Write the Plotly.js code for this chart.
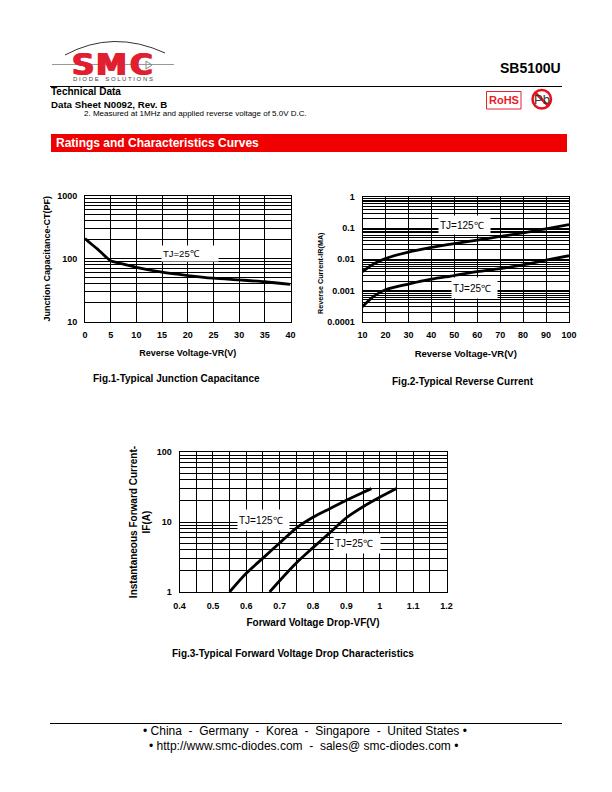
<!DOCTYPE html>
<html>
<head>
<meta charset="utf-8">
<script src="https://cdn.plot.ly/plotly-3.0.1.min.js"></script>
<style>html,body{margin:0;padding:0;background:#fff}</style>
</head>
<body>
<div id="chart" style="width:612px;height:792px"></div>
<script>
// Fig.1 junction capacitance
var capV = [0, 1, 2.5, 4, 5, 7, 10, 15, 20, 25, 30, 35, 40];
var capPF = [210, 178, 141, 108, 93, 84, 73, 61, 54, 49, 46, 43, 39];
var capXTicks = [0, 5, 10, 15, 20, 25, 30, 35, 40];
var capYGrid = [10,20,30,40,50,60,70,80,90,100,200,300,400,500,600,700,800,900,1000];
var capYLabels = {10: '10', 100: '100', 1000: '1000'};

// Fig.2 reverse current
var revV = [10, 15, 20, 30, 40, 50, 60, 70, 80, 90, 100];
var rev125 = [0.004, 0.0072, 0.0105, 0.017, 0.024, 0.032, 0.041, 0.054, 0.07, 0.095, 0.13];
var rev25 = [0.0003, 0.00065, 0.00105, 0.0016, 0.0023, 0.003, 0.004, 0.005, 0.0066, 0.0093, 0.013];
var revXTicks = [10, 20, 30, 40, 50, 60, 70, 80, 90, 100];
var revYGrid = [0.0001,0.0002,0.0003,0.0004,0.0005,0.0006,0.0007,0.0008,0.0009,
  0.001,0.002,0.003,0.004,0.005,0.006,0.007,0.008,0.009,
  0.01,0.02,0.03,0.04,0.05,0.06,0.07,0.08,0.09,
  0.1,0.2,0.3,0.4,0.5,0.6,0.7,0.8,0.9,1];
var revYLabels = {0.0001: '0.0001', 0.001: '0.001', 0.01: '0.01', 0.1: '0.1', 1: '1'};

// Fig.3 forward voltage drop
var fwdV125 = [0.55, 0.6, 0.65, 0.7, 0.75, 0.8, 0.85, 0.9, 0.95, 0.975];
var fwdI125 = [1, 1.85, 3.05, 5, 8.2, 11.7, 15.5, 20.5, 26.5, 30];
var fwdV25 = [0.67, 0.7, 0.75, 0.8, 0.85, 0.9, 0.95, 1, 1.05];
var fwdI25 = [1, 1.45, 2.6, 4.3, 7, 11.5, 16.5, 22.5, 30];
var fwdXGrid = [0.4,0.45,0.5,0.55,0.6,0.65,0.7,0.75,0.8,0.85,0.9,0.95,1,1.05,1.1,1.15,1.2];
var fwdXLabels = {0.4:'0.4',0.5:'0.5',0.6:'0.6',0.7:'0.7',0.8:'0.8',0.9:'0.9',1:'1',1.1:'1.1',1.2:'1.2'};
var fwdYGrid = [1,2,3,4,5,6,7,8,9,10,20,30,40,50,60,70,80,90,100];
var fwdYLabels = {1: '1', 10: '10', 100: '100'};

var W = 612, H = 792;
var FONT = 'Liberation Sans, Arial, sans-serif';
function fx(p) { return p / W; }
function fy(p) { return 1 - p / H; }
function labelsFor(vals, map) {
  return vals.map(function (v) { return map[v] || ''; });
}

function curve(x, y, n) {
  return {
    x: x, y: y, xaxis: 'x' + n, yaxis: 'y' + n, mode: 'lines',
    line: {color: '#000', width: 2.8, shape: 'spline', smoothing: 0.8},
    hoverinfo: 'skip'
  };
}

var data = [
  curve(capV, capPF, ''),
  curve(revV, rev125, '2'),
  curve(revV, rev25, '2'),
  curve(fwdV125, fwdI125, '3'),
  curve(fwdV25, fwdI25, '3')
];

function baseAxis(range, vals, text, title, standoff, anchor, titleSize) {
  return {
    anchor: anchor, range: range,
    tickmode: 'array', tickvals: vals, ticktext: text,
    ticks: '', ticklabelstandoff: 5,
    tickfont: {family: FONT, size: 9, color: '#000', weight: 'bold'},
    showgrid: true, gridcolor: '#000', gridwidth: 1,
    showline: true, linecolor: '#000', linewidth: 1, mirror: true, zeroline: false,
    title: {text: title, standoff: standoff,
      font: {family: FONT, size: titleSize, color: '#000', weight: 'bold'}}
  };
}
function xAxis(box, range, vals, text, title, standoff, anchor, titleSize) {
  var a = baseAxis(range, vals, text, title, standoff, anchor, titleSize);
  a.domain = [fx(box[0]), fx(box[1])];
  return a;
}
function yAxis(box, range, vals, text, title, standoff, anchor, titleSize) {
  var a = baseAxis(range, vals, text, title, standoff, anchor, titleSize);
  a.domain = [fy(box[3]), fy(box[2])];
  a.type = 'log';
  return a;
}

// pixel boxes of the three plots: left, right, top, bottom
var box1 = [85, 290.5, 196, 321.5];
var box2 = [362.5, 569, 197, 321.5];
var box3 = [179.5, 446.5, 452, 592];

function note(px, py, txt, opts) {
  opts = opts || {};
  var anchor = opts.anchor || 'center';
  var nudge = anchor === 'left' ? -2 : (anchor === 'right' ? 2 : 0);
  var a = {
    xref: 'paper', yref: 'paper', x: fx(px + nudge), y: fy(py), showarrow: false,
    text: txt, xanchor: anchor, yanchor: 'middle',
    font: {family: opts.family || FONT, size: opts.size || 9, color: opts.color || '#000',
      weight: opts.bold ? 'bold' : 'normal'}
  };
  if (opts.box) {
    a.bgcolor = '#fff'; a.width = opts.box[0]; a.height = opts.box[1]; a.align = 'left';
  }
  if (opts.angle) a.textangle = opts.angle;
  if (opts.shadow) a.font.shadow = opts.shadow;
  if (opts.height) a.height = opts.height;
  return a;
}

var logoRed = '#e02030';
var logoFat = '1px 0 0 #e02030, -1px 0 0 #e02030';

var annotations = [
  // plot labels
  note(189.5, 253.5, 'TJ=25℃', {box: [54, 13], size: 9.5}),
  note(464.5, 225, 'TJ=125℃', {box: [49, 16], size: 10}),
  note(474.5, 288, 'TJ=25℃', {box: [43, 18], size: 10}),
  note(263.5, 520, 'TJ=125℃', {box: [49, 18], size: 10}),
  note(357, 543.5, 'TJ=25℃', {box: [44, 17], size: 10}),
  // captions
  note(176, 378, 'Fig.1-Typical Junction Capacitance', {bold: true, size: 10}),
  note(463, 381, 'Fig.2-Typical Reverse Current', {bold: true, size: 10}),
  note(293, 653, 'Fig.3-Typical Forward Voltage Drop Characteristics', {bold: true, size: 10}),
  // squeezed y title of Fig.2, it sits below the plot's middle
  note(320, 273, 'Reverse Current-IR(MA)', {bold: true, size: 7.2, angle: -90}),
  // page header
  note(561, 68, 'SB5100U', {size: 14, bold: true, anchor: 'right'}),
  note(51, 92, 'Technical Data', {bold: true, size: 10, anchor: 'left'}),
  note(51, 104.5, 'Data Sheet N0092, Rev. B', {bold: true, size: 9.7, anchor: 'left'}),
  note(84, 114, '2. Measured at 1MHz and applied reverse voltage of 5.0V D.C.', {size: 8, anchor: 'left'}),
  note(56, 143, 'Ratings and Characteristics Curves', {size: 12, bold: true, color: '#fff', anchor: 'left'}),
  // logo letters
  note(83, 64, 'S', {size: 31, bold: true, color: logoRed, family: 'DejaVu Sans', shadow: logoFat, height: 22}),
  note(111.5, 64, 'M', {size: 31, bold: true, color: logoRed, family: 'DejaVu Sans', shadow: logoFat, height: 22}),
  note(141, 64, 'C', {size: 31, bold: true, color: logoRed, family: 'DejaVu Sans', shadow: logoFat, height: 22}),
  note(113, 79, 'D I O D E    S O L U T I O N S', {size: 6, color: '#444'}),
  // badges
  note(503.5, 99.5, 'RoHS', {size: 11, bold: true, color: '#e8202a'}),
  note(541.5, 99.5, 'Pb', {size: 13, color: '#333'}),
  // footer
  note(305, 731, '• China  -  Germany  -  Korea  -  Singapore  -  United States •', {size: 12}),
  note(303, 746, '• http://www.smc-diodes.com  -  sales@ smc-diodes.com •', {size: 12})
];

function rect(x0, y0, x1, y1, fill, lineColor, lw) {
  return {type: 'rect', xref: 'paper', yref: 'paper', x0: fx(x0), x1: fx(x1), y0: fy(y0), y1: fy(y1),
    fillcolor: fill, line: {color: lineColor || fill, width: lw || 0}, layer: 'below'};
}
function hline(x0, x1, y, color, lw) {
  return {type: 'line', xref: 'paper', yref: 'paper', x0: fx(x0), x1: fx(x1), y0: fy(y), y1: fy(y),
    line: {color: color, width: lw}, layer: 'below'};
}

var shapes = [
  hline(50, 562, 86.5, '#000', 1),
  hline(50, 562, 723.5, '#000', 1),
  rect(51, 134, 567, 152, '#f00000'),
  // logo
  hline(52, 174, 64.5, '#999', 1),
  {type: 'path', xref: 'paper', yref: 'paper', layer: 'below',
    path: 'M ' + fx(65) + ' ' + fy(55) + ' Q ' + fx(113) + ' ' + fy(29) + ' ' + fx(165) + ' ' + fy(53),
    line: {color: '#333', width: 1}},
  {type: 'path', xref: 'paper', yref: 'paper',
    path: 'M ' + fx(146) + ' ' + fy(61) + ' L ' + fx(152) + ' ' + fy(65) + ' L ' + fx(146) + ' ' + fy(69) + ' Z',
    line: {color: '#888', width: 1}, fillcolor: 'rgba(0,0,0,0)', layer: 'above'},
  // RoHS and Pb badges
  rect(486.5, 91.5, 521, 109, '#fff', '#e8202a', 1),
  {type: 'circle', xref: 'paper', yref: 'paper', x0: fx(532.5), x1: fx(551), y0: fy(90), y1: fy(108.5),
    line: {color: '#e8101a', width: 2.5}, layer: 'above'},
  {type: 'line', xref: 'paper', yref: 'paper', x0: fx(535), x1: fx(548.5), y0: fy(92.5), y1: fy(106),
    line: {color: '#e8101a', width: 2.5}, layer: 'above'}
];

var layout = {
  width: W, height: H, margin: {l: 0, r: 0, t: 0, b: 0},
  paper_bgcolor: '#fff', plot_bgcolor: '#fff', showlegend: false,
  annotations: annotations, shapes: shapes,
  xaxis: xAxis(box1, [0, 40], capXTicks, capXTicks.map(String), 'Reverse Voltage-VR(V)', 10, 'y', 9),
  yaxis: yAxis(box1, [1, 3], capYGrid, labelsFor(capYGrid, capYLabels), 'Junction Capacitance-CT(PF)', 5, 'x', 9),
  xaxis2: xAxis(box2, [10, 100], revXTicks, revXTicks.map(String), 'Reverse Voltage-VR(V)', 11, 'y2', 9.5),
  yaxis2: yAxis(box2, [-4, 0], revYGrid, labelsFor(revYGrid, revYLabels), '', 8, 'x2', 9),
  xaxis3: xAxis(box3, [0.4, 1.2], fwdXGrid, labelsFor(fwdXGrid, fwdXLabels), 'Forward Voltage Drop-VF(V)', 9, 'y3', 10),
  yaxis3: yAxis(box3, [0, 2], fwdYGrid, labelsFor(fwdYGrid, fwdYLabels), 'Instantaneous Forward Current-<br>IF(A)', 4, 'x3', 10)
};

Plotly.newPlot('chart', data, layout, {displayModeBar: false, staticPlot: true});
</script>
</body>
</html>
